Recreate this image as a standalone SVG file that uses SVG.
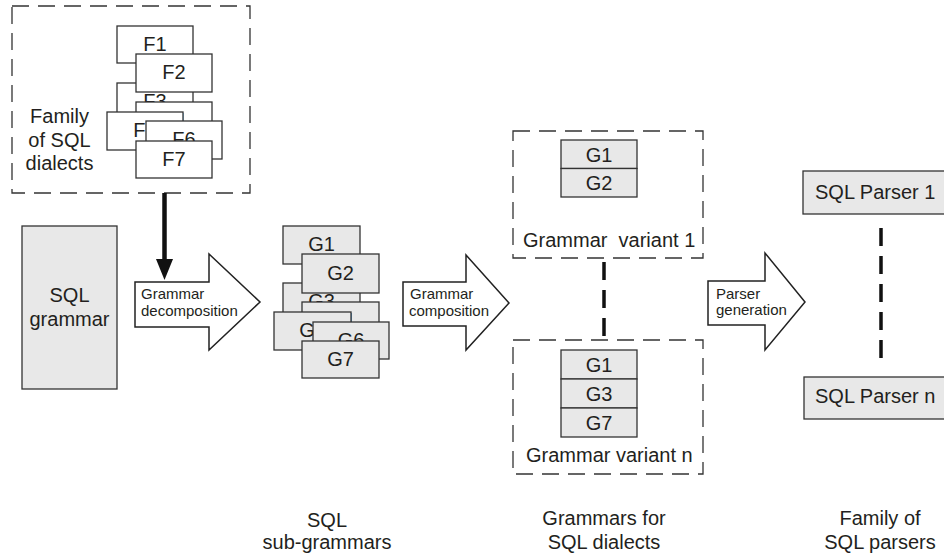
<svg xmlns="http://www.w3.org/2000/svg" width="944" height="553" viewBox="0 0 944 553">
<style>
text{font-family:"Liberation Sans",Arial,sans-serif;fill:#231f20}
.big{font-size:20px}
.sm{font-size:15px}
.mid{text-anchor:middle}
.dash{fill:none;stroke:#333;stroke-width:1.3;stroke-dasharray:17 9}
.wbox{fill:#fff;stroke:#333;stroke-width:1.3}
.gbox{fill:#e8e8e8;stroke:#333;stroke-width:1.3}
.harrow{fill:#fff;stroke:#222;stroke-width:1.5;stroke-linejoin:miter}
.vdash{fill:none;stroke:#111;stroke-width:3.5;stroke-dasharray:18 10}
</style>

<g id="family-dialects">
  <rect class="dash" x="12" y="6" width="238" height="187"/>
  <text class="big mid" x="59.5" y="123">Family</text>
  <text class="big mid" x="59.5" y="147">of SQL</text>
  <text class="big mid" x="59.5" y="170">dialects</text>
  <g id="F1"><rect class="wbox" x="117" y="26" width="76" height="37"/><text class="big mid" x="155" y="51">F1</text></g>
  <g id="F3"><rect class="wbox" x="117" y="83" width="76" height="37"/><text class="big mid" x="155" y="108">F3</text></g>
  <g id="F2"><rect class="wbox" x="136" y="54" width="76" height="38"/><text class="big mid" x="174" y="79">F2</text></g>
  <g id="F4"><rect class="wbox" x="136" y="102" width="76" height="37"/><text class="big mid" x="174" y="127">F4</text></g>
  <g id="F5"><rect class="wbox" x="107" y="112" width="76" height="38"/><text class="big mid" x="145" y="137">F5</text></g>
  <g id="F6"><rect class="wbox" x="146" y="121" width="76" height="38"/><text class="big mid" x="184" y="146">F6</text></g>
  <g id="F7"><rect class="wbox" x="136" y="141" width="76" height="37"/><text class="big mid" x="174" y="166">F7</text></g>
</g>

<g id="sql-grammar">
  <rect class="gbox" x="22" y="226" width="95" height="163"/>
  <text class="big mid" x="69.5" y="302">SQL</text>
  <text class="big mid" x="69.5" y="326">grammar</text>
</g>

<g id="sub-grammars">
  <g id="G1"><rect class="gbox" x="283" y="226" width="77" height="38"/><text class="big mid" x="321.5" y="251">G1</text></g>
  <g id="G3"><rect class="gbox" x="283" y="283" width="77" height="38"/><text class="big mid" x="321.5" y="308">G3</text></g>
  <g id="G2"><rect class="gbox" x="302" y="254" width="77" height="39"/><text class="big mid" x="340.5" y="280">G2</text></g>
  <g id="G4"><rect class="gbox" x="302" y="302" width="77" height="38"/><text class="big mid" x="340.5" y="327">G4</text></g>
  <g id="G5"><rect class="gbox" x="274" y="312" width="77" height="38"/><text class="big mid" x="312.5" y="337">G5</text></g>
  <g id="G6"><rect class="gbox" x="313" y="322" width="76" height="37"/><text class="big mid" x="351" y="347">G6</text></g>
  <g id="G7"><rect class="gbox" x="302" y="341" width="77" height="37"/><text class="big mid" x="340.5" y="366">G7</text></g>
</g>

<g id="grammar-variant-1">
  <rect class="dash" x="513" y="131" width="190" height="127"/>
  <rect class="gbox" x="561" y="140" width="76" height="28.5"/>
  <rect class="gbox" x="561" y="168.5" width="76" height="28.5"/>
  <text class="big mid" x="599" y="161.5">G1</text>
  <text class="big mid" x="599" y="190">G2</text>
  <text class="big" x="523" y="247" xml:space="preserve">Grammar  variant 1</text>
</g>

<g id="grammar-variant-n">
  <rect class="dash" x="513" y="340" width="190" height="134"/>
  <rect class="gbox" x="561" y="350" width="76" height="29"/>
  <rect class="gbox" x="561" y="379" width="76" height="29"/>
  <rect class="gbox" x="561" y="408" width="76" height="29"/>
  <text class="big mid" x="599" y="372">G1</text>
  <text class="big mid" x="599" y="401">G3</text>
  <text class="big mid" x="599" y="430">G7</text>
  <text class="big" x="526" y="462">Grammar variant n</text>
</g>

<g id="sql-parser-1">
  <rect class="gbox" x="803" y="171" width="150" height="43"/>
  <text class="big" x="815" y="199">SQL Parser 1</text>
</g>

<g id="sql-parser-n">
  <rect class="gbox" x="804" y="377" width="150" height="42"/>
  <text class="big" x="815" y="403">SQL Parser n</text>
</g>

<g id="connectors">
  <line x1="164.5" y1="193" x2="164.5" y2="261" stroke="#111" stroke-width="4.5"/>
  <polygon points="156,259 173,259 164.5,280" fill="#111"/>
  <g id="arrow-decomposition">
    <polygon class="harrow" points="135,282 209,282 209,254 260,302 209,350 209,327 135,327"/>
    <text class="sm" x="141" y="299">Grammar</text>
    <text class="sm" x="141" y="316">decomposition</text>
  </g>
  <g id="arrow-composition">
    <polygon class="harrow" points="403,282 466,282 466,255 509,303 466,350 466,326 403,326"/>
    <text class="sm" x="410" y="299">Grammar</text>
    <text class="sm" x="409" y="316">composition</text>
  </g>
  <g id="arrow-generation">
    <polygon class="harrow" points="708,281 765,281 765,253 805,302 765,350 765,325 708,325"/>
    <text class="sm" x="716" y="299">Parser</text>
    <text class="sm" x="716" y="315">generation</text>
  </g>
  <line class="vdash" x1="604" y1="262" x2="604" y2="340"/>
  <line class="vdash" x1="881" y1="228" x2="881" y2="362"/>
</g>

<g id="captions">
  <text class="big mid" x="327" y="527">SQL</text>
  <text class="big mid" x="327" y="549">sub-grammars</text>
  <text class="big mid" x="604" y="525">Grammars for</text>
  <text class="big mid" x="604" y="549">SQL dialects</text>
  <text class="big mid" x="880" y="525">Family of</text>
  <text class="big mid" x="880" y="549">SQL parsers</text>
</g>
</svg>
